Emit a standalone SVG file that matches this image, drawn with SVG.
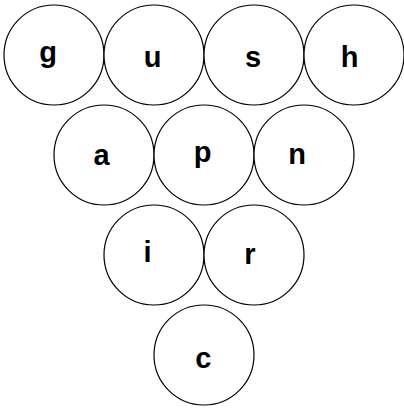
<svg xmlns="http://www.w3.org/2000/svg" width="404" height="408" viewBox="0 0 404 408">
<style>
.n circle{fill:#fff;stroke:#000;stroke-width:1.2}
.n text{font-family:"Liberation Sans",Arial,sans-serif;font-weight:bold;font-size:29px;text-anchor:middle;fill:#000}
</style>
<rect width="404" height="408" fill="#fff"/>
<g id="connectors"></g>
<g id="node-g" class="n"><circle cx="54" cy="55" r="50"/><text x="48" y="62">g</text></g>
<g id="node-u" class="n"><circle cx="154" cy="55" r="50"/><text x="152.5" y="67">u</text></g>
<g id="node-s" class="n"><circle cx="254" cy="55" r="50"/><text x="253" y="67">s</text></g>
<g id="node-h" class="n"><circle cx="354" cy="55" r="50"/><text x="349.5" y="67">h</text></g>
<g id="node-a" class="n"><circle cx="104" cy="155" r="50"/><text x="101.5" y="165">a</text></g>
<g id="node-p" class="n"><circle cx="204" cy="155" r="50"/><text x="202.5" y="161.5">p</text></g>
<g id="node-n" class="n"><circle cx="304" cy="155" r="50"/><text x="297" y="164">n</text></g>
<g id="node-i" class="n"><circle cx="154" cy="255" r="50"/><text x="147.5" y="262">i</text></g>
<g id="node-r" class="n"><circle cx="254" cy="255" r="50"/><text x="250" y="264">r</text></g>
<g id="node-c" class="n"><circle cx="204" cy="355" r="50"/><text x="203.3" y="368">c</text></g>
</svg>
